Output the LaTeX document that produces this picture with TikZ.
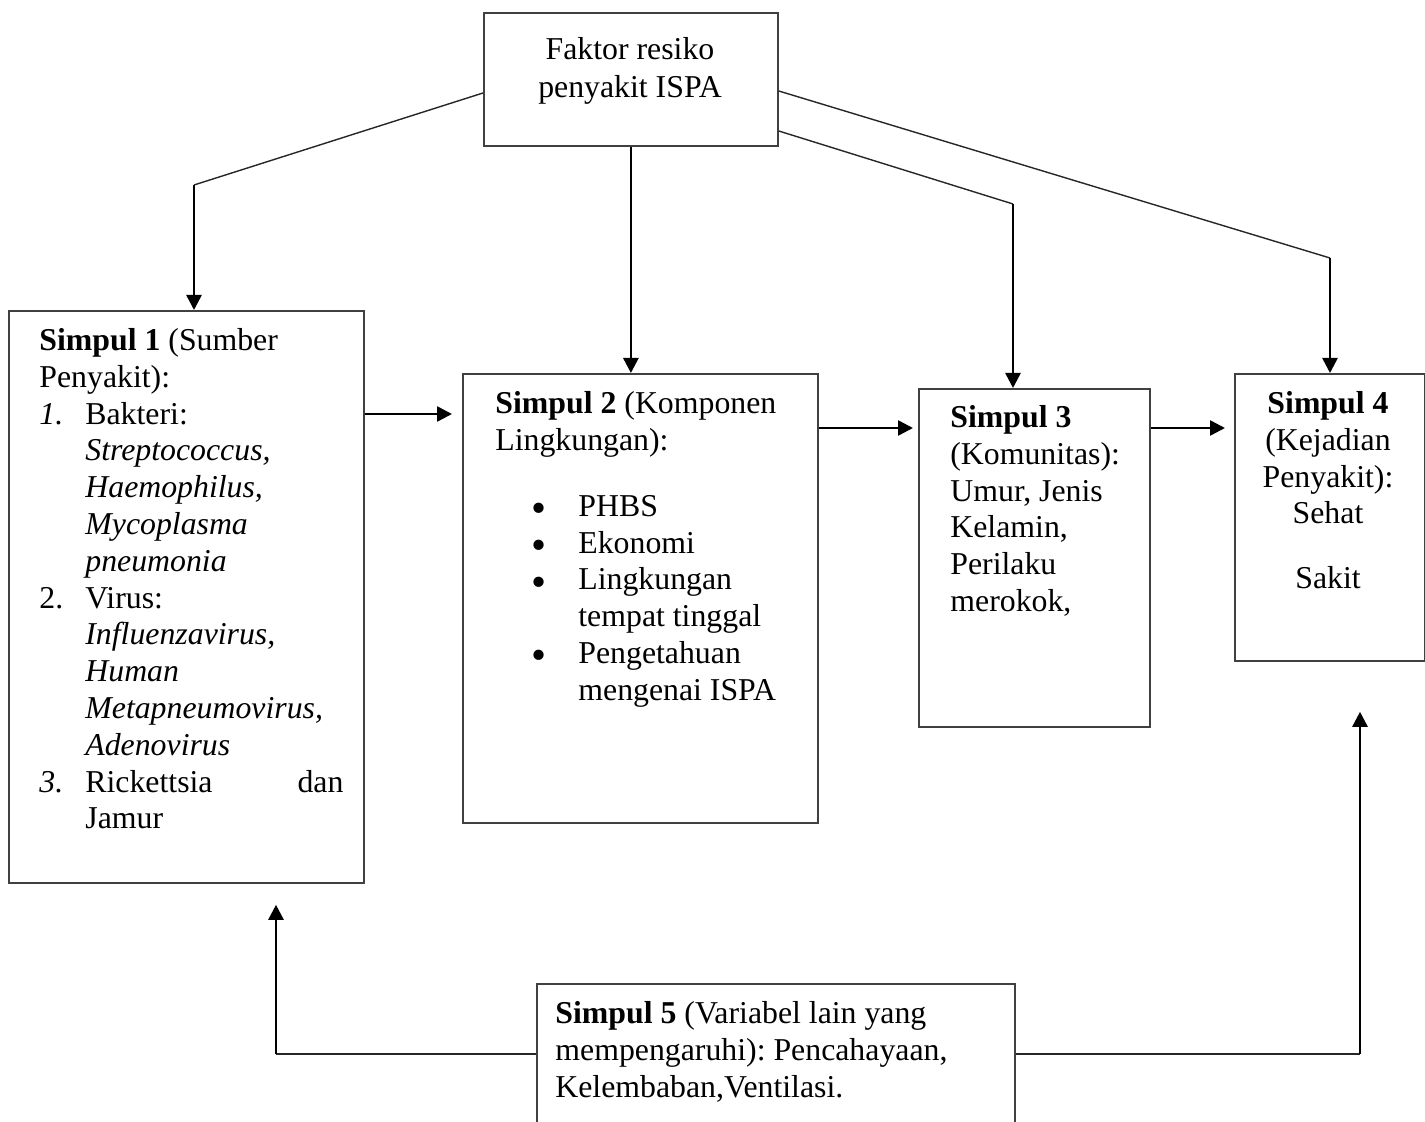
\documentclass[tikz,border=0pt]{standalone}
\usepackage{fontspec}
\setmainfont{Liberation Serif}
\usetikzlibrary{arrows.meta,positioning}
\tikzset{
    %Define standard arrow tip
    >={Triangle[length=7.5pt,width=7.5pt]},
    %Define style for boxes
    kotak/.style={
           rectangle,
           draw=black!75, line width=0.9pt,
           anchor=north west,
           inner sep=0pt},
    isi/.style={
           inner sep=0pt,
           anchor=north west,
           align=left,
           font=\fontsize{15.9pt}{18.4pt}\selectfont\frenchspacing},
    % Define line styles
    garis/.style={
           draw=black!85,
           line width=0.7pt},
    panah/.style={
           ->,
           line width=1.3pt}
}
\newcommand{\butir}{\hspace*{18pt}\makebox[23.5pt][l]{\raisebox{-3.2pt}[0pt][0pt]{\scalebox{1.35}{\textbullet}}}}

\begin{document}
\begin{tikzpicture}[x=0.5pt,y=-0.5pt]
\useasboundingbox (0,0) rectangle (1425,1122);
\clip (0,0) rectangle (1425,1122);
 %boxes
\node[kotak, minimum width=147pt, minimum height=66.5pt] (faktor) at (483,12) {};
\node[kotak, minimum width=177.5pt, minimum height=286pt] (s1) at (8,310) {};
\node[kotak, minimum width=177.5pt, minimum height=224.5pt] (s2) at (462,373) {};
\node[kotak, minimum width=115.5pt, minimum height=169pt] (s3) at (918,388) {};
\node[kotak, minimum width=95pt, minimum height=143.5pt] (s4) at (1234,373) {};
\node[kotak, minimum width=239pt, minimum height=90pt] (s5) at (536,983) {};

 %texts
\node[isi, anchor=north, align=center, font=\fontsize{15.9pt}{19.2pt}\selectfont] (faktortxt) at (630,37)
    {Faktor resiko\\penyakit ISPA};
\node[isi] (s1txt) at (39,328) {%
    \textbf{Simpul 1} (Sumber\\
    Penyakit):\\
    \makebox[23pt][l]{\textit{1.}}Bakteri:\\
    \hspace*{23pt}\textit{Streptococcus,}\\
    \hspace*{23pt}\textit{Haemophilus,}\\
    \hspace*{23pt}\textit{Mycoplasma}\\
    \hspace*{23pt}\textit{pneumonia}\\
    \makebox[23pt][l]{2.}Virus:\\
    \hspace*{23pt}\textit{Influenzavirus,}\\
    \hspace*{23pt}\textit{Human}\\
    \hspace*{23pt}\textit{Metapneumovirus,}\\
    \hspace*{23pt}\textit{Adenovirus}\\
    \makebox[23pt][l]{\textit{3.}}\makebox[129pt][l]{Rickettsia\hfill dan}\\
    \hspace*{23pt}Jamur};
\node[isi] (s2txt) at (495,391) {%
    \textbf{Simpul 2} (Komponen\\
    Lingkungan):\\[14.6pt]
    \butir PHBS\\
    \butir Ekonomi\\
    \butir Lingkungan\\
    \hspace*{41.5pt}tempat tinggal\\
    \butir Pengetahuan\\
    \hspace*{41.5pt}mengenai ISPA};
\node[isi] (s3txt) at (950,405) {%
    \textbf{Simpul 3}\\
    (Komunitas):\\
    Umur, Jenis\\
    Kelamin,\\
    Perilaku\\
    merokok,};
\node[isi, anchor=north, align=center] (s4txt) at (1328,391) {%
    \textbf{Simpul 4}\\
    (Kejadian\\
    Penyakit):\\
    Sehat\\[14pt]
    Sakit};
\node[isi] (s5txt) at (555,1001) {%
    \textbf{Simpul 5} (Variabel lain yang\\
    mempengaruhi): Pencahayaan,\\
    Kelembaban,Ventilasi.};

 %bends
\coordinate (b1) at (194,185);
\coordinate (b3) at (1013,204);
\coordinate (b4) at (1330,258);
\coordinate (c5l) at (276,1054);
\coordinate (c5r) at (1360,1054);

 %connectors
\draw[garis] (faktor.west |- 0,93) -- (b1);
\draw[panah] (b1) -- (b1 |- s1.north);
\draw[panah] (faktor.south) -- (faktor.south |- s2.north);
\draw[garis] (faktor.east |- 0,131) -- (b3);
\draw[panah] (b3) -- (b3 |- s3.north);
\draw[garis] (faktor.east |- 0,91) -- (b4);
\draw[panah] (b4) -- (b4 |- s4.north);

\draw[panah, shorten >=5pt] (s1.east |- 0,414) -- (s2.west |- 0,414);
\draw[panah, shorten >=2.5pt] (s2.east |- 0,428) -- (s3.west |- 0,428);
\draw[panah, shorten >=4.5pt] (s3.east |- 0,428) -- (s4.west |- 0,428);

\draw[garis] (s5.west |- c5l) -- (c5l);
\draw[panah, shorten >=10.5pt] (c5l) -- (c5l |- s1.south);
\draw[garis] (s5.east |- c5r) -- (c5r);
\draw[panah, shorten >=25pt] (c5r) -- (c5r |- s4.south);
\end{tikzpicture}
\end{document}
